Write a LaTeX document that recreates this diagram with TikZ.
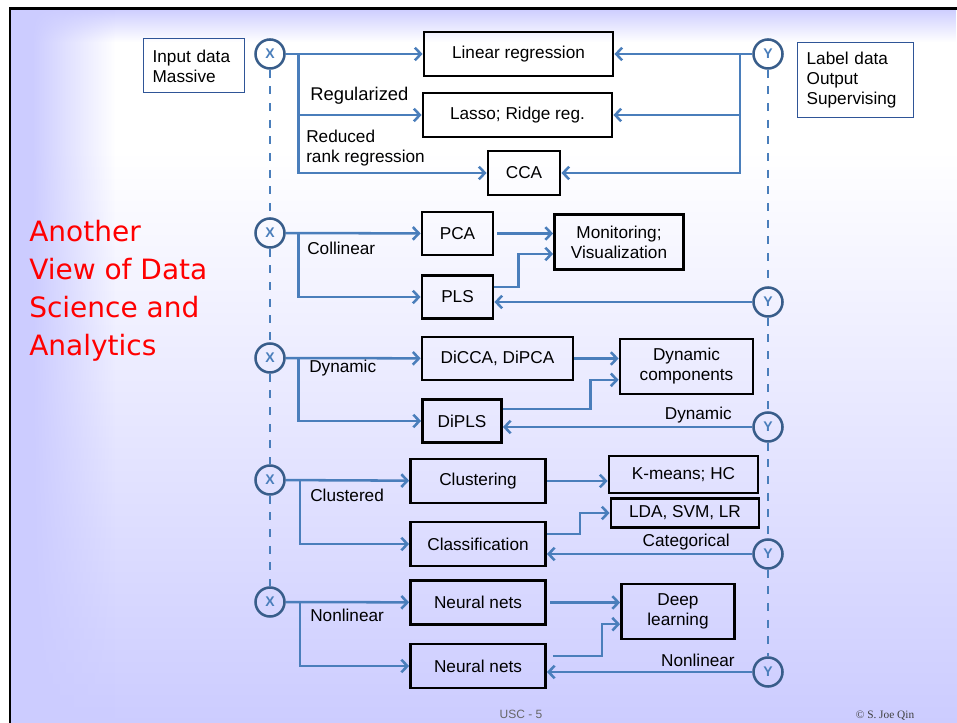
\documentclass[tikz,border=0pt]{standalone}
\usepackage{fontspec}
\setmainfont{Liberation Sans}
\newfontfamily\titlefont{DejaVu Sans}
\newfontfamily\creditfont{Liberation Serif}
\usepackage{xcolor}
\usepackage{tikz}
\usetikzlibrary{arrows.meta, fadings}
\definecolor{slidelav}{RGB}{204,204,255}
\definecolor{flowblue}{RGB}{74,126,187}
\definecolor{ringblue}{RGB}{56,93,138}
\definecolor{noteblue}{RGB}{47,85,151}
\tikzfading[name=fadeleft, left color=transparent!0, right color=transparent!100]
\tikzfading[name=fadetop, top color=transparent!0, bottom color=transparent!100]

\begin{document}
\begin{tikzpicture}[
    x=0.75pt, y=-0.75pt,
    font=\fontsize{12.9}{15}\selectfont,
    box/.style={rectangle, draw=black, line width=2.1pt, minimum height=33pt, align=center, inner sep=2pt},
    note/.style={rectangle, draw=noteblue, line width=0.9pt, align=left, inner xsep=7pt, anchor=north west},
    var/.style={circle, draw=ringblue, line width=1.9pt, minimum size=21.75pt, inner sep=0pt, text=flowblue, font=\fontsize{10.5}{11}\selectfont\bfseries},
    arrow/.style={-{Straight Barb[length=4.5pt,width=9.5pt]}, flowblue, line width=1.9pt},
    dashline/.style={flowblue, line width=1.9pt, dash pattern=on 6pt off 6.5pt},
    lbl/.style={anchor=west, inner sep=0pt}
]
\useasboundingbox (0,0) rectangle (957,723);

% Slide background
\fill[white] (0,0) rectangle (957,723);
\shade[top color=white, bottom color=slidelav] (10,150) rectangle (957,723);
\fill[slidelav, path fading=fadetop] (10,8) rectangle (957,42);
\fill[slidelav] (10,8) rectangle (32,723);
\fill[slidelav, path fading=fadeleft] (32,8) rectangle (115,723);
\draw[line width=2pt] (10,723) -- (10,8.5) -- (957,8.5);

% Title
\node[anchor=north west, align=left, inner sep=0pt, text=red, font=\titlefont\fontsize{21}{28.5}\selectfont] (title) at (29,220) {Another\\View of Data\\Science and\\Analytics};

% Input and output data
\node[note, text width=61.75pt, minimum height=40.5pt] (input) at (142.7,38.3) {Input data\\Massive};
\node[note, text width=73pt, minimum height=56.25pt] (label) at (796.7,41.7) {Label data\\Output\\Supervising};

% Group 1: regression
\node[var] (x1) at (270,54) {X};
\node[var] (y1) at (768,54) {Y};
\node[box, minimum width=141.75pt] (linreg) at (518.5,54) {Linear regression};
\node[box, minimum width=141.75pt] (lasso) at (517.5,115) {Lasso; Ridge reg.};
\node[box, minimum width=54pt] (cca) at (524,173) {CCA};
\coordinate (xb1) at (298.5,54);
\coordinate (yb1) at (740,54);
\draw[arrow] (x1) -- (linreg);
\draw[arrow] (xb1) |- (lasso);
\draw[arrow] (xb1) |- (cca);
\draw[arrow] (y1) -- (linreg);
\draw[arrow] (yb1) |- (lasso);
\draw[arrow] (yb1) |- (cca);
\node[lbl, font=\fontsize{13.8}{15}\selectfont] (reg) at (310,96) {Regularized};
\node[lbl, align=left] (rrr) at (306,148) {Reduced\\rank regression};

% Group 2: collinear
\node[var] (x2) at (270,233) {X};
\node[var] (y2) at (768,302) {Y};
\node[box, minimum width=53.25pt, minimum height=32.25pt] (pca) at (457.5,233.5) {PCA};
\node[box, minimum width=53.25pt, minimum height=32.25pt] (pls) at (457.5,297) {PLS};
\node[box, minimum width=96.75pt, minimum height=41.25pt] (mon) at (619,242) {Monitoring;\\Visualization};
\coordinate (xb2) at (298.5,233);
\draw[arrow] (x2) -- (pca);
\draw[arrow] (xb2) |- (pls);
\draw[arrow, shorten <=2pt] (pca) -- (pca -| mon.west);
\draw[arrow] ([yshift=7.5pt]pls.east) -- ++(24,0) |- ([yshift=-9pt]mon.west);
\draw[arrow] (y2) -- (y2 -| pls.east);
\node[lbl] (coll) at (307,248) {Collinear};

% Group 3: dynamic
\node[var] (x3) at (270,358) {X};
\node[var] (y3) at (768,427) {Y};
\node[box, minimum width=113.25pt, minimum height=32.25pt] (dicca) at (497.5,358.5) {DiCCA, DiPCA};
\node[box, minimum width=59.25pt, minimum height=32.25pt] (dipls) at (462,421) {DiPLS};
\node[box, minimum width=99.75pt, minimum height=41.25pt] (dyncomp) at (686.5,366.5) {Dynamic\\components};
\coordinate (xb3) at (298.5,358);
\draw[arrow] (x3) -- (dicca);
\draw[arrow] (xb3) |- (dipls);
\draw[arrow] (dicca) -- (dicca -| dyncomp.west);
\draw[arrow] ([yshift=9pt]dipls.east) -- ++(87.5,0) |- ([yshift=-10pt]dyncomp.west);
\draw[arrow] (y3) -- (y3 -| dipls.east);
\node[lbl] (dynin) at (309,368) {Dynamic};
\node[lbl, anchor=east] (dynout) at (732,415) {Dynamic};

% Group 4: clustered
\node[var] (x4) at (270,480) {X};
\node[var] (y4) at (768,554) {Y};
\node[box, minimum width=101.25pt] (clus) at (478,481) {Clustering};
\node[box, minimum width=101.25pt] (cls) at (478,544) {Classification};
\node[box, minimum width=111.75pt, minimum height=27.75pt] (kmeans) at (683.5,474.5) {K-means; HC};
\node[box, minimum width=111pt, minimum height=21.75pt] (lda) at (685,513) {LDA, SVM, LR};
\coordinate (xb4) at (300,480);
\draw[arrow] (x4) -- (clus);
\draw[arrow] (xb4) |- (cls);
\draw[arrow] (clus) -- (clus -| kmeans.west);
\draw[arrow] ([yshift=7.5pt]cls.east) -- ++(33,0) |- (lda);
\draw[arrow] (y4) -- (y4 -| cls.east);
\node[lbl] (clusin) at (310,495) {Clustered};
\node[lbl, anchor=east] (catout) at (730,542) {Categorical};

% Group 5: nonlinear
\node[var] (x5) at (270,602) {X};
\node[var] (y5) at (768,672) {Y};
\node[box, minimum width=101.25pt] (nn1) at (478,602.5) {Neural nets};
\node[box, minimum width=101.25pt] (nn2) at (478,666) {Neural nets};
\node[box, minimum width=84.75pt, minimum height=41.25pt] (deep) at (678,611.5) {Deep\\learning};
\coordinate (xb5) at (300,602);
\draw[arrow] (x5) -- (nn1);
\draw[arrow] (xb5) |- (nn2);
\draw[arrow, shorten <=2.5pt] (nn1) -- (nn1 -| deep.west);
\draw[arrow] ([xshift=4.5pt,yshift=7.5pt]nn2.east) -- ++(49,0) |- ([yshift=-9.5pt]deep.west);
\draw[arrow] (y5) -- (y5 -| nn2.east);
\node[lbl] (nlin) at (310,615) {Nonlinear};
\node[lbl, anchor=east] (nlout) at (735,660) {Nonlinear};

% Dashed rails
\draw[dashline] (x1) -- (x2);
\draw[dashline] (x2) -- (x3);
\draw[dashline] (x3) -- (x4);
\draw[dashline] (x4) -- (x5);
\draw[dashline] (y1) -- (y2);
\draw[dashline] (y2) -- (y3);
\draw[dashline] (y3) -- (y4);
\draw[dashline] (y4) -- (y5);

% Footer
\node[text=black!60, font=\fontsize{9}{10}\selectfont] (pageno) at (521,714) {USC - 5};
\node[text=black!75, font=\creditfont\fontsize{8.5}{10}\selectfont] (credit) at (885,716) {© S. Joe Qin};

\end{tikzpicture}
\end{document}
